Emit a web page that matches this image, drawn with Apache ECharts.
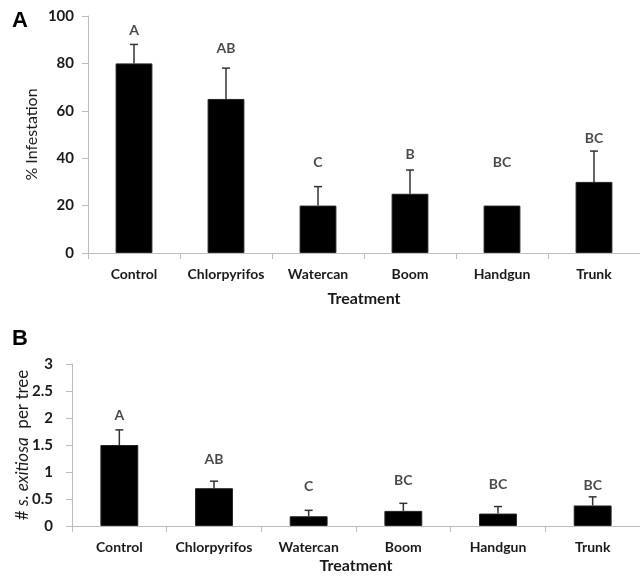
<!DOCTYPE html>
<html>
<head>
<meta charset="utf-8">
<script src="https://cdn.jsdelivr.net/npm/echarts@6/dist/echarts.min.js"></script>
<style>html,body{margin:0;padding:0;background:#fff}#c{width:640px;height:584px}</style>
</head>
<body>
<div id="c"></div>
<script>
var categories = ['Control', 'Chlorpyrifos', 'Watercan', 'Boom', 'Handgun', 'Trunk'];
// Panel A: % infestation
var infestMean = [80, 65, 20, 25, 20, 30];
var infestErrTop = [88, 78, 28, 35, 20, 43];
var infestLetters = ['A', 'AB', 'C', 'B', 'BC', 'BC'];
var infestLetterY = [94, 86.5, 38, 41.4, 38.4, 48.5];
var infestTicks = [0, 20, 40, 60, 80, 100];
// Panel B: # S. exitiosa per tree
var borerMean = [1.5, 0.7, 0.18, 0.28, 0.23, 0.38];
var borerErrTop = [1.78, 0.83, 0.29, 0.42, 0.36, 0.54];
var borerLetters = ['A', 'AB', 'C', 'BC', 'BC', 'BC'];
var borerLetterY = [2.04, 1.24, 0.74, 0.84, 0.77, 0.75];
var borerTicks = [0, 0.5, 1, 1.5, 2, 2.5, 3];

var FONT = 'Lato';
var axisGray = '#bdbdbd';
var textCol = '#1a1a1a';

function errSeries(idx, means, tops) {
  return {
    type: 'custom', xAxisIndex: idx, yAxisIndex: idx, z: 5,
    data: means.map(function (m, i) { return [i, m, tops[i]]; }),
    renderItem: function (params, api) {
      var base = api.coord([api.value(0), api.value(1)]);
      var top = api.coord([api.value(0), api.value(2)]);
      if (Math.abs(base[1] - top[1]) < 0.5) return null;
      var st = { stroke: '#333', lineWidth: 1.5 };
      return { type: 'group', children: [
        { type: 'line', shape: { x1: base[0], y1: base[1], x2: top[0], y2: top[1] }, style: st },
        { type: 'line', shape: { x1: top[0] - 4, y1: top[1], x2: top[0] + 4, y2: top[1] }, style: st }
      ]};
    }
  };
}
function letterSeries(idx, letters, ys) {
  return {
    type: 'scatter', xAxisIndex: idx, yAxisIndex: idx, symbolSize: 1, itemStyle: { color: 'rgba(0,0,0,0)' },
    data: ys.map(function (y, i) { return { value: [i, y], name: letters[i] }; }),
    label: { show: true, position: 'inside', formatter: function (p) { return p.name; },
      fontFamily: FONT, fontWeight: 'bold', fontSize: 14, color: textCol },
    silent: true
  };
}
function xAx(idx, nameGap) {
  return {
    type: 'category', gridIndex: idx, data: categories,
    axisLine: { lineStyle: { color: axisGray, width: 1 } },
    axisTick: { show: true, length: 6, lineStyle: { color: axisGray } },
    axisLabel: { fontFamily: FONT, fontWeight: 'bold', fontSize: 14, color: textCol, margin: 14, interval: 0 },
    name: 'Treatment', nameLocation: 'middle', nameGap: nameGap, nameMoveOverlap: false,
    nameTextStyle: { fontFamily: FONT, fontWeight: 'bold', fontSize: 16, color: textCol }
  };
}

var chart = echarts.init(document.getElementById('c'));
chart.setOption({
  animation: false,
  backgroundColor: '#fff',
  grid: [
    { left: 88, right: 0, top: 16, bottom: 331, containLabel: false, outerBoundsMode: 'none' },
    { left: 72, right: 0, top: 364, bottom: 58, containLabel: false, outerBoundsMode: 'none' }
  ],
  graphic: [
    { type: 'text', left: 12, top: 10, style: { text: 'A', font: 'bold 22px Arial', fill: '#000' } },
    { type: 'text', left: 12, top: 328, style: { text: 'B', font: 'bold 22px Arial', fill: '#000' } }
  ],
  xAxis: [xAx(0, 38), xAx(1, 32)],
  yAxis: [
    {
      type: 'value', gridIndex: 0, min: infestTicks[0], max: infestTicks[infestTicks.length - 1], interval: 20,
      axisLine: { show: true, lineStyle: { color: axisGray } },
      axisTick: { show: true, length: 6, lineStyle: { color: axisGray } },
      splitLine: { show: false },
      axisLabel: { fontFamily: FONT, fontWeight: 'bold', fontSize: 15, color: textCol, margin: 14 },
      name: '% Infestation', nameLocation: 'middle', nameGap: 48, nameMoveOverlap: false,
      nameTextStyle: { fontFamily: FONT, fontSize: 16, color: textCol }
    },
    {
      type: 'value', gridIndex: 1, min: borerTicks[0], max: borerTicks[borerTicks.length - 1], interval: 0.5,
      axisLine: { show: true, lineStyle: { color: axisGray } },
      axisTick: { show: true, length: 6, lineStyle: { color: axisGray } },
      splitLine: { show: false },
      axisLabel: { fontFamily: FONT, fontWeight: 'bold', fontSize: 15, color: textCol, margin: 19 },
      name: '{n|# }{i|s. exitiosa}{n|  per tree}', nameLocation: 'middle', nameGap: 41, nameMoveOverlap: false,
      nameTextStyle: { fontFamily: FONT, fontSize: 17, color: textCol,
        rich: { n: { fontFamily: FONT, fontSize: 17, color: textCol },
                i: { fontFamily: FONT, fontSize: 17, fontStyle: 'italic', color: textCol } } }
    }
  ],
  series: [
    { type: 'bar', xAxisIndex: 0, yAxisIndex: 0, data: infestMean, barWidth: '40%',
      itemStyle: { color: '#000', borderColor: '#222', borderWidth: 1 } },
    errSeries(0, infestMean, infestErrTop),
    letterSeries(0, infestLetters, infestLetterY),
    { type: 'bar', xAxisIndex: 1, yAxisIndex: 1, data: borerMean, barWidth: '40%',
      itemStyle: { color: '#000', borderColor: '#222', borderWidth: 1 } },
    errSeries(1, borerMean, borerErrTop),
    letterSeries(1, borerLetters, borerLetterY)
  ]
});
</script>
</body>
</html>
